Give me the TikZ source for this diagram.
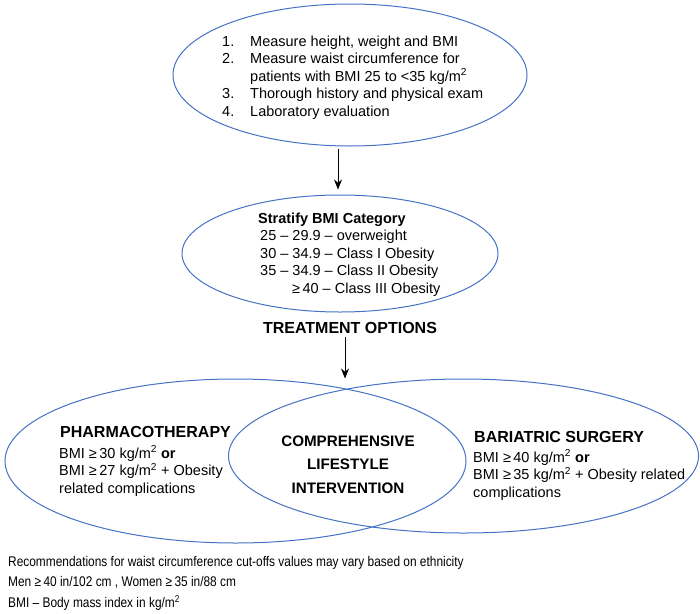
\documentclass[tikz,border=0pt]{standalone}
\usepackage{fontspec}
\setmainfont{Liberation Sans}
\newfontfamily\narrowsans[FakeStretch=0.85]{Liberation Sans}
\usetikzlibrary{shapes.geometric,arrows.meta}
\definecolor{ringblue}{RGB}{68,114,196}
\begin{document}
\begin{tikzpicture}[x=1pt,y=-1pt,
  ring/.style={draw=ringblue, line width=1pt, ellipse, inner sep=0pt},
  flow/.style={draw=black, line width=0.9pt, -{Stealth[length=10pt,width=8pt]}},
  txt/.style={inner sep=0pt, anchor=base west, font=\fontsize{14.5}{17.5}\selectfont},
  head/.style={inner sep=0pt, anchor=base west, font=\fontsize{16}{19}\selectfont\bfseries},
  note/.style={inner sep=0pt, anchor=base west, font=\narrowsans\fontsize{14}{20.8}\selectfont}]
\useasboundingbox (0,0) rectangle (700,613);

% ellipses
\node[ring, minimum width=354pt, minimum height=142pt] (assess) at (350,75) {};
\node[ring, minimum width=316pt, minimum height=117pt] (stratify) at (340,253.5) {};
\node[ring, minimum width=461pt, minimum height=164pt] (pharm) at (235.5,461) {};
\node[ring, minimum width=470pt, minimum height=154pt] (bari) at (463.5,456) {};

% assessment steps
\node[txt] (steps) at (222,46) {\begin{tabular}[t]{@{}l@{}}
\makebox[28pt][l]{1.}Measure height, weight and BMI\\
\makebox[28pt][l]{2.}Measure waist circumference for\\
\hspace{28pt}patients with BMI 25 to <35 kg/m\textsuperscript{2}\\
\makebox[28pt][l]{3.}Thorough history and physical exam\\
\makebox[28pt][l]{4.}Laboratory evaluation
\end{tabular}};

% BMI categories
\node[txt] (cats) at (258,223) {\begin{tabular}[t]{@{}l@{}}
\textbf{Stratify BMI Category}\\
\hspace{2pt}25 – 29.9 – overweight\\
\hspace{2pt}30 – 34.9 – Class I Obesity\\
\hspace{2pt}35 – 34.9 – Class II Obesity\\
\hspace{34pt}≥\,40 – Class III Obesity
\end{tabular}};

\node[head, anchor=base] (options) at (350,333) {TREATMENT OPTIONS};

% treatment options
\node[head] (pharmhead) at (60,437) {PHARMACOTHERAPY};
\node[txt] (pharmtext) at (59,458) {\begin{tabular}[t]{@{}l@{}}
BMI ≥\,30 kg/m\textsuperscript{2} \textbf{or}\\
BMI ≥\,27 kg/m\textsuperscript{2} + Obesity\\
related complications
\end{tabular}};

\node[txt, anchor=base, font=\fontsize{15.2}{23.5}\selectfont\bfseries] (life) at (348,446) {\begin{tabular}[t]{@{}c@{}}
COMPREHENSIVE\\ LIFESTYLE\\ INTERVENTION
\end{tabular}};

\node[head] (barihead) at (474,442) {BARIATRIC SURGERY};
\node[txt] (baritext) at (473,462) {\begin{tabular}[t]{@{}l@{}}
BMI ≥\,40 kg/m\textsuperscript{2} \textbf{or}\\
BMI ≥\,35 kg/m\textsuperscript{2} + Obesity related\\
complications
\end{tabular}};

% footnotes
\node[note] (notes) at (8,566) {\begin{tabular}[t]{@{}l@{}}
Recommendations for waist circumference cut-offs values may vary based on ethnicity\\
Men ≥\,40 in/102 cm , Women ≥\,35 in/88 cm\\
BMI – Body mass index in kg/m\textsuperscript{2}
\end{tabular}};

% arrows
\draw[flow] ([shift={(-12,2)}]assess.south) -- ([shift={(-2,-5)}]stratify.north);
\draw[flow] ([shift={(-5,4)}]options.south) -- ([xshift=-5pt]options.south |- bari.north);
\end{tikzpicture}
\end{document}
